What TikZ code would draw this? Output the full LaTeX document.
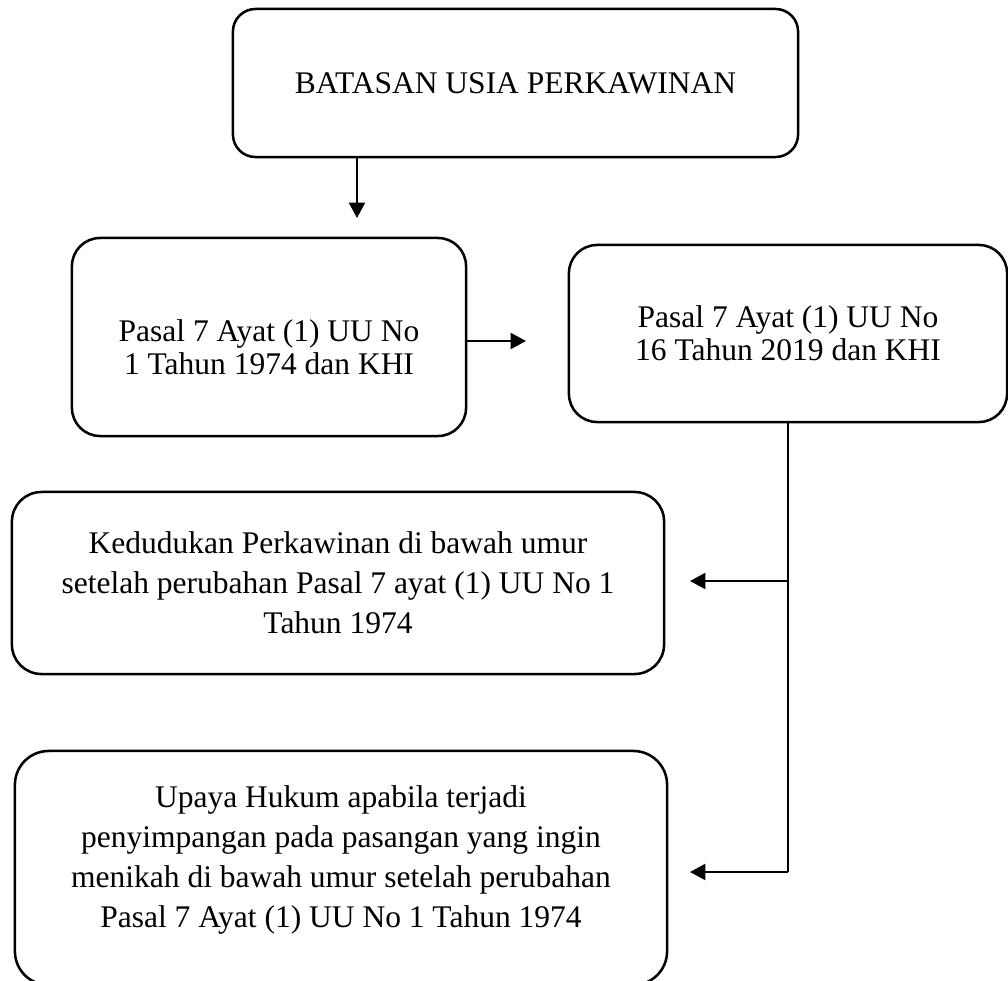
\documentclass[tikz,border=0pt]{standalone}
\usepackage{fontspec}
\setmainfont{Liberation Serif}
\usetikzlibrary{arrows.meta}

\begin{document}
\begin{tikzpicture}
[
    x=0.025cm, y=-0.025cm,
    kotak/.style={draw, line width=1.8pt, align=center, inner sep=0pt, font=\fontsize{22.4}{23.4}\selectfont},
    kotak bawah/.style={kotak, font=\fontsize{22.4}{28.4}\selectfont},
    panah/.style={line width=1.4pt, -{Triangle[length=11pt,width=11.5pt]}},
]
\clip (0,0) rectangle (1008,981);
\node[kotak, rounded corners=16pt, minimum width=14.125cm, minimum height=3.7cm] (batasan) at (515.5,83) {BATASAN USIA PERKAWINAN};
\node[kotak, rounded corners=20pt, minimum width=9.85cm, minimum height=4.95cm, text height=53pt] (lama) at (269,337) {Pasal 7 Ayat (1) UU No\\1 Tahun 1974 dan KHI};
\node[kotak, rounded corners=20pt, minimum width=10.95cm, minimum height=4.425cm] (baru) at (788,333.5) {Pasal 7 Ayat (1) UU No\\16 Tahun 2019 dan KHI};
\node[kotak bawah, rounded corners=21pt, minimum width=16.3cm, minimum height=4.55cm] (kedudukan) at (338,583) {Kedudukan Perkawinan di bawah umur\\setelah perubahan Pasal 7 ayat (1) UU No 1\\Tahun 1974};
\node[kotak bawah, rounded corners=24pt, minimum width=16.3cm, minimum height=5.85cm, text depth=16pt] (upaya) at (341,868) {Upaya Hukum apabila terjadi\\penyimpangan pada pasangan yang ingin\\menikah di bawah umur setelah perubahan\\Pasal 7 Ayat (1) UU No 1 Tahun 1974};

\coordinate (ujung1) at (357,218);
\coordinate (ujung2) at (526,341);
\coordinate (siku) at (788,872);
\coordinate (ujung3) at (690,581);
\coordinate (ujung4) at (690,872);
\draw[panah] (batasan.south -| ujung1) -- (ujung1);
\draw[panah] (lama.east |- ujung2) -- (ujung2);
\draw[line width=0.9pt] (baru.south) -- (siku);
\draw[panah] (ujung3 -| siku) -- (ujung3);
\draw[panah] (siku) -- (ujung4);
\end{tikzpicture}
\end{document}
